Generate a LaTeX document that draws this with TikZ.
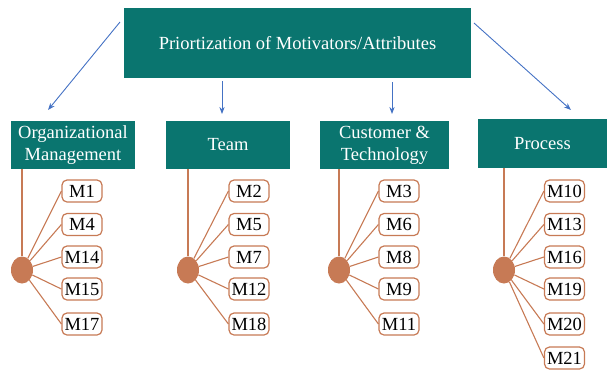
\documentclass[tikz,border=0pt]{standalone}
\usepackage{fontspec}
\setmainfont{Liberation Serif}
\usetikzlibrary{shapes.geometric, arrows.meta, positioning}
\usepackage{xcolor}
\definecolor{prioteal}{RGB}{10, 117, 111}
\definecolor{priobrown}{RGB}{199, 122, 85}
\definecolor{prioblue}{RGB}{68, 114, 196}
\tikzset{
  tbox/.style={
    rectangle, fill=prioteal, text=white,
    align=center, inner sep=0pt,
    font=\fontsize{18.5}{22}\selectfont
  },
  mbox/.style={
    rectangle, rounded corners=5pt,
    draw=priobrown, fill=white, line width=1.2pt,
    minimum width=40pt, minimum height=22pt, inner sep=0pt,
    font=\fontsize{18.5}{20}\selectfont
  },
  hub/.style={
    ellipse, fill=priobrown, inner sep=0pt,
    minimum width=22pt, minimum height=27pt
  },
  arr/.style={-Stealth, line width=0.9pt, color=prioblue},
  link/.style={line width=1.1pt, color=priobrown},
}

\begin{document}
\begin{tikzpicture}[x=1pt, y=-1pt]
        \useasboundingbox (0,0) rectangle (607,370);
        \node[tbox, minimum width=347pt, minimum height=70pt] (top) at (297.5,43) {Priortization of Motivators/Attributes};
        \node[tbox, minimum width=124pt, minimum height=48pt] (org)  at (73,145)    {Organizational\\Management};
        \node[tbox, minimum width=124pt, minimum height=48pt] (team) at (228,145)   {Team};
        \node[tbox, minimum width=129pt, minimum height=48pt] (cust) at (384.5,145) {Customer \&\\Technology};
        \node[tbox, minimum width=129pt, minimum height=49pt] (proc) at (542.5,143.5) {Process};
        % arrows from the top box
        \coordinate (a1) at (120,22);  \coordinate (b1) at (48,110);
        \coordinate (a2) at (222,81);  \coordinate (b2) at (222,114);
        \coordinate (a3) at (392,82);  \coordinate (b3) at (392,114);
        \coordinate (a4) at (474,23);  \coordinate (b4) at (571,110);
        \draw[arr] (a1)--(b1); \draw[arr] (a2)--(b2);
        \draw[arr] (a3)--(b3); \draw[arr] (a4)--(b4);
        % hubs
        \node[hub] (orghub)  at (22,270)  {};
        \node[hub] (teamhub) at (188,270) {};
        \node[hub] (custhub) at (339,270) {};
        \node[hub] (prochub) at (504,270) {};
        \draw[link] (orghub.center |- org.south) -- (orghub);
        \draw[link] (teamhub.center |- team.south) -- (teamhub);
        \draw[link] (custhub.center |- cust.south) -- (custhub);
        \draw[link] (prochub.center |- proc.south) -- (prochub);
        % motivators
        \foreach \lbl/\yy [count=\i] in {M1/191, M4/224.5, M14/257, M15/289, M17/324} {
          \node[mbox] (org-\i) at (82,\yy) {\lbl};
          \draw[link] (orghub) -- (org-\i.west);
        }
        \foreach \lbl/\yy [count=\i] in {M2/191, M5/224.5, M7/257, M12/289, M18/324} {
          \node[mbox] (team-\i) at (249,\yy) {\lbl};
          \draw[link] (teamhub) -- (team-\i.west);
        }
        \foreach \lbl/\yy [count=\i] in {M3/191, M6/224.5, M8/257, M9/289, M11/324} {
          \node[mbox] (cust-\i) at (399,\yy) {\lbl};
          \draw[link] (custhub) -- (cust-\i.west);
        }
        \foreach \lbl/\yy [count=\i] in {M10/191, M13/224.5, M16/257, M19/289, M20/324, M21/358} {
          \node[mbox] (proc-\i) at (564.5,\yy) {\lbl};
          \draw[link] (prochub) -- (proc-\i.west);
        }
      \end{tikzpicture}
\end{document}
